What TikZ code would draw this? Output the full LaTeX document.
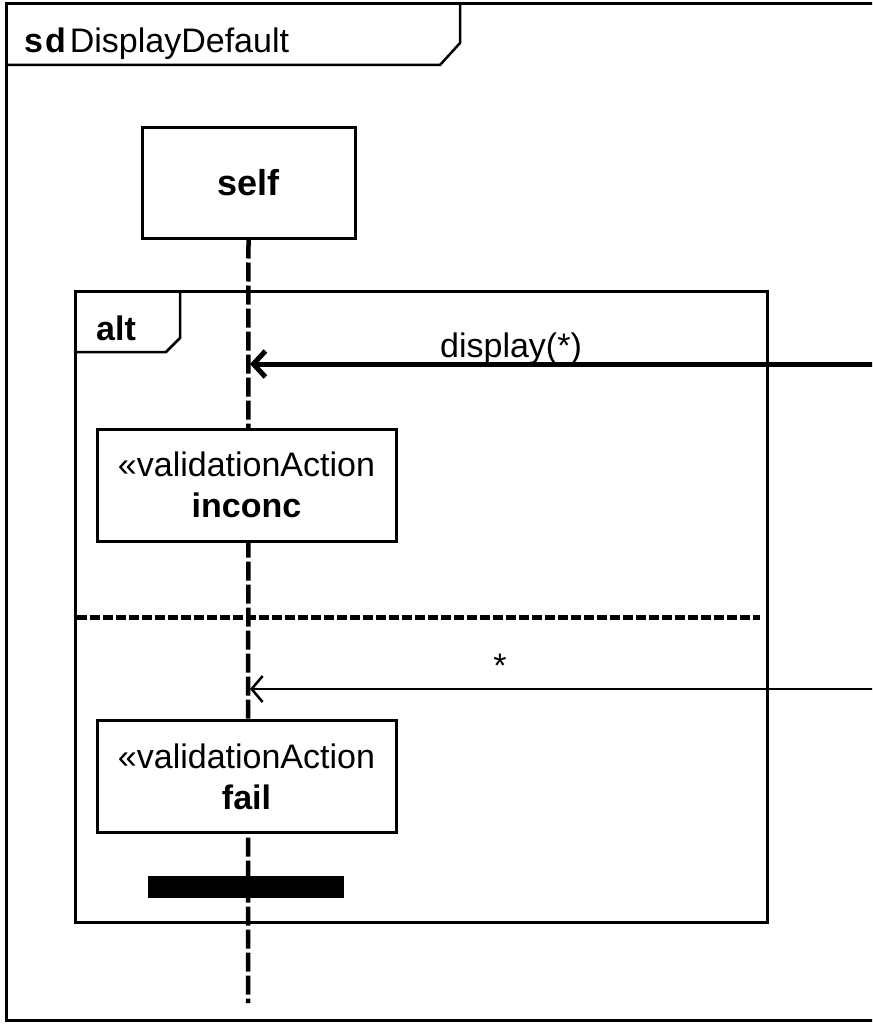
\documentclass[tikz,border=0pt]{standalone}
\usepackage{fontspec}
\setmainfont{Liberation Sans}
\usetikzlibrary{arrows.meta}
\begin{document}
\begin{tikzpicture}[x=1pt,y=-1pt,
  frameline/.style={line width=3pt},
  headbox/.style={draw,line width=3pt,minimum width=213pt,minimum height=110pt,inner sep=0pt,font=\fontsize{36}{40}\selectfont\bfseries},
  actbox/.style={draw,line width=3pt,minimum width=299pt,minimum height=112pt,inner sep=0pt,align=center,font=\fontsize{34}{41}\selectfont},
  lifeline/.style={line width=4.5pt,dash pattern=on 19pt off 4pt},
  lbl/.style={font=\fontsize{34}{40}\selectfont,inner sep=0pt},
  bigmsg/.style={line width=5pt,-{Straight Barb[length=12pt,width=26pt,line width=5pt]}},
  smallmsg/.style={line width=1.5pt,-{Straight Barb[length=11pt,width=26pt,line width=2.5pt]}}
]
\useasboundingbox (0,0) rectangle (872,1024);
\clip (0,0) rectangle (872,1024);
\fill[white] (0,0) rectangle (872,1024);
% outer frame
\draw[frameline] (900,4) -- (6,4) -- (6,1020) -- (900,1020);
\draw[line width=2.5pt] (6,65) -- (440,65) -- (460,43) -- (460,4);
\node[lbl,anchor=base west] (title) at (24,53) {\textbf{s\kern2pt d}\kern4pt DisplayDefault};
% lifeline head
\node[headbox] (self) at (248.5,183) {self};
\coordinate (llend) at (248,1003);
\draw[lifeline] (self.south) -- (llend);
% alt fragment
\draw[frameline] (75,291) rectangle (767,922);
\draw[line width=2.5pt] (75,352) -- (166,352) -- (180,338) -- (180,291);
\node[lbl,anchor=base west,font=\fontsize{34}{40}\selectfont\bfseries] (alt) at (96,340) {alt};
% message display(*)
\coordinate (m1r) at (880,364);
\coordinate (m1l) at (250,364);
\draw[bigmsg] (m1r) -- (m1l);
\node[lbl,anchor=base] (m1lbl) at (511,357) {display(*)};
% action 1
\node[actbox,fill=white] (act1) at (246.5,485) {«validationAction\\\textbf{inconc}};
% separator
\coordinate (sepl) at (77,617);
\coordinate (sepr) at (760,617);
\draw[line width=5pt,dash pattern=on 10pt off 3pt] (sepl) -- (sepr);
% message *
\coordinate (m2r) at (880,689);
\coordinate (m2l) at (250,689);
\draw[smallmsg] (m2r) -- (m2l);
\node[lbl,anchor=base] (m2lbl) at (500,677) {*};
% action 2
\node[actbox,fill=white] (act2) at (246.5,776.5) {«validationAction\\\textbf{fail}};
% stop bar
\node[fill=black,minimum width=196pt,minimum height=22pt,inner sep=0pt] (stop) at (246,887) {};
\end{tikzpicture}
\end{document}
